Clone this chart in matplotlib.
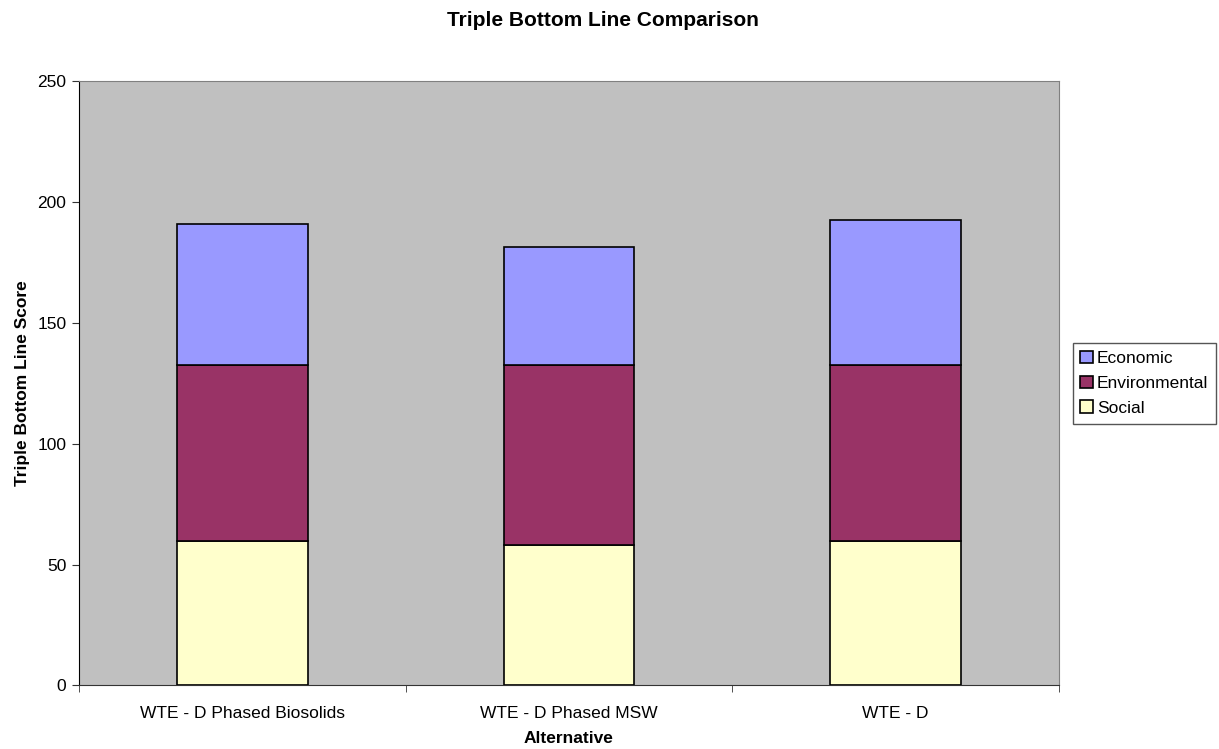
import numpy as np
import matplotlib.pyplot as plt

alternatives = ['WTE - D Phased Biosolids', 'WTE - D Phased MSW', 'WTE - D']
social = [59.8, 57.9, 59.8]
environmental = [72.7, 74.6, 72.7]
economic = [58.2, 48.8, 60.0]

plt.rcParams['font.family'] = ['Liberation Sans', 'DejaVu Sans']

fig = plt.figure(figsize=(12.19, 7.49), dpi=100)
ax = fig.add_axes([0.0648, 0.0848, 0.8039, 0.8071])
ax.set_facecolor('#C0C0C0')

x = np.arange(len(alternatives))
w = 0.4
b1 = ax.bar(x, social, w, color='#FFFFCC', edgecolor='black', linewidth=1.2, label='Social')
b2 = ax.bar(x, environmental, w, bottom=social, color='#993366', edgecolor='black',
            linewidth=1.2, label='Environmental')
bottom2 = np.array(social) + np.array(environmental)
b3 = ax.bar(x, economic, w, bottom=bottom2, color='#9999FF', edgecolor='black',
            linewidth=1.2, label='Economic')

fs = 12.5
ax.set_xlim(-0.5, 2.5)
ax.set_ylim(0, 250)
ax.set_yticks(range(0, 251, 50))
ax.set_xticks(x)
ax.set_xticklabels(alternatives, fontsize=fs)
ax.tick_params(axis='x', length=0, pad=15)
ax.set_xticks([-0.5, 0.5, 1.5, 2.5], minor=True)
ax.tick_params(axis='x', which='minor', length=5, direction='out', color='#333333')
ax.tick_params(axis='y', length=5, direction='out', labelsize=fs, color='#333333', pad=4)

for s in ['top', 'right']:
    ax.spines[s].set_color('#808080')
ax.spines['left'].set_color('black')
ax.spines['bottom'].set_color('#333333')

ax.set_xlabel('Alternative', fontsize=fs, fontweight='bold', labelpad=7)
ax.set_ylabel('Triple Bottom Line Score', fontsize=fs, fontweight='bold', labelpad=5)
fig.text(0.495, 0.972, 'Triple Bottom Line Comparison', fontsize=15, fontweight='bold',
         ha='center', va='center')

leg = ax.legend([b3, b2, b1], ['Economic', 'Environmental', 'Social'],
                loc='center left', bbox_to_anchor=(1.014, 0.5), fontsize=fs,
                fancybox=False, framealpha=1, edgecolor='#555555',
                handlelength=0.75, handleheight=0.75, handletextpad=0.2,
                borderpad=0.45, labelspacing=0.55, borderaxespad=0)

fig.savefig('out.png', dpi=100)
